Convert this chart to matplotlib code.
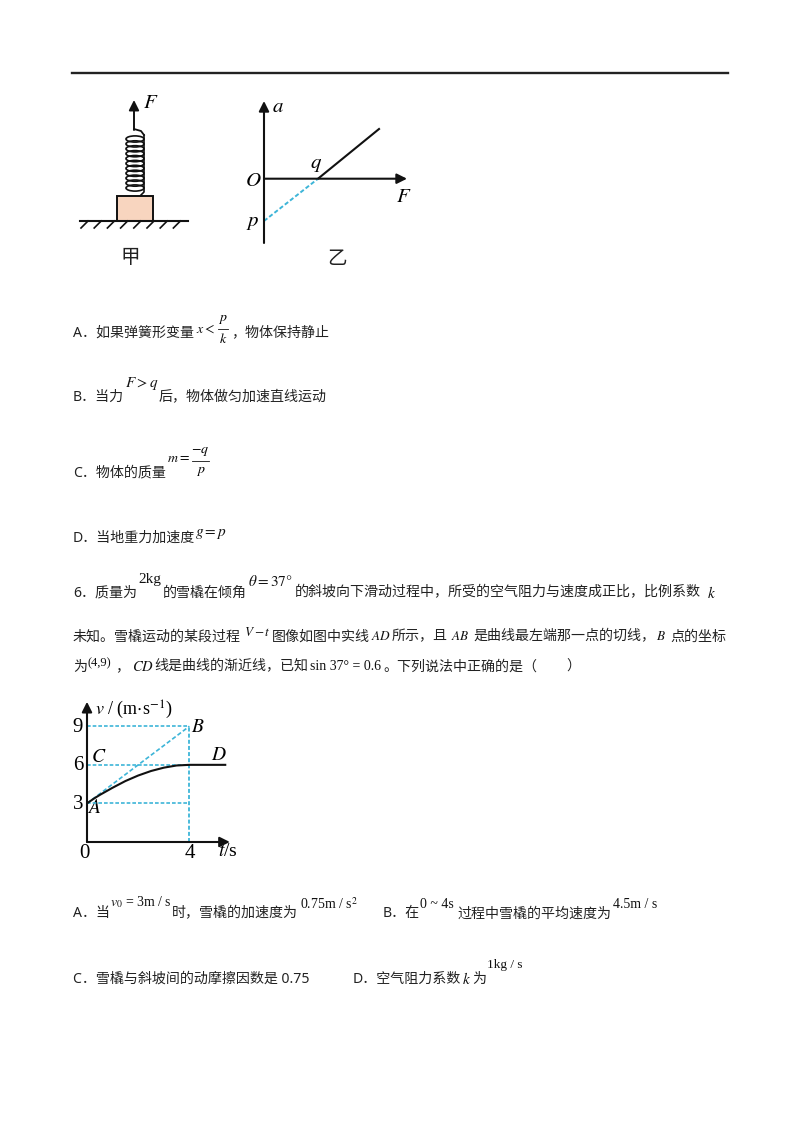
import numpy as np
from matplotlib import pyplot as plt
from matplotlib.patches import Ellipse, Rectangle

plt.rcParams['font.family'] = ['Noto Sans', 'Noto Sans CJK SC', 'DejaVu Sans']
plt.rcParams['mathtext.fontset'] = 'stix'

SERIF = ['Liberation Serif', 'DejaVu Serif']
CYAN = '#3db5d8'
INK = '#111111'

# v-t graph values
t_curve = [0, 0.25, 0.5, 1, 1.5, 2, 2.5, 3, 3.5, 4, 5.4]
v_curve = [3, 3.35, 3.66, 4.22, 4.74, 5.17, 5.52, 5.78, 5.95, 6, 6]
t_ticks = [0, 4]
v_ticks = [3, 6, 9]
A_pt = (0, 3)
B_pt = (4, 9)

# a-F graph values
F_line = [1, 2.13]
a_line = [0, 1.175]
F_dash = [0, 1]
a_dash = [-1, 0]

# page text: x, centre y, string
cjk_lines = [
    (73, 333, 'A．如果弹簧形变量'), (231, 333, '，物体保持静止'),
    (73, 397, 'B．当力'), (159, 397, '后，物体做匀加速直线运动'),
    (73, 473, 'C．物体的质量'),
    (73, 538, 'D．当地重力加速度'),
    (73, 593, '6．质量为'), (163, 593, '的雪橇在倾角'),
    (295, 593, '的斜坡向下滑动过程中，所受的空气阻力与速度成正比，比例系数'),
    (73, 637, '未知。雪橇运动的某段过程'), (272, 637, '图像如图中实线'),
    (392, 637, '所示，且'), (473, 637, '是曲线最左端那一点的切线，'),
    (670, 637, '点的坐标'),
    (73, 667, '为'), (115, 667, '，'), (154, 667, '线是曲线的渐近线，已知'),
    (383, 667, '。下列说法中正确的是（'), (566, 667, '）'),
    (73, 914, 'A．当'), (172, 914, '时，雪橇的加速度为'),
    (383, 914, 'B．在'), (457, 914, '过程中雪橇的平均速度为'),
    (73, 979, 'C．雪橇与斜坡间的动摩擦因数是 0.75'),
    (353, 979, 'D．空气阻力系数'), (472, 979, '为'),
]
math_lines = [
    (196, 329, '$x<$', 10), (125, 384, '$F>q$', 11), (167, 459, '$m=$', 10),
    (195, 534, '$g=p$', 11), (138, 580, '2kg', 11), (248, 581, r'$\theta=37°$', 11),
    (707, 593, '$k$', 11), (244, 633, '$V-t$', 9.5), (371, 637, '$AD$', 9.5),
    (451, 637, '$AB$', 9.5), (656, 637, '$B$', 9.5), (88, 663, '(4,9)', 9),
    (132, 667, '$CD$', 10.5), (310, 666, 'sin 37° = 0.6', 10),
    (110, 902, r'$v_0$ = 3m / s', 10), (300, 904, '0.75m / s$^2$', 10),
    (420, 904, '0 ~ 4s', 10), (613, 905, '4.5m / s', 10),
    (462, 979, '$k$', 11), (487, 965, '1kg / s', 9.5),
]

fig = plt.figure(figsize=(8, 11.32), dpi=100)
page = fig.add_axes([0, 0, 1, 1])
page.set_xlim(0, 800)
page.set_ylim(1132, 0)
page.axis('off')

page.plot([72, 728], [72.5, 72.5], color='#222222', lw=1.7)

for x, y, s in cjk_lines:
    page.text(x, y, s, fontsize=10.08, va='center', color='#222222')
for x, y, s, size in math_lines:
    page.text(x, y, s, fontsize=size, va='center', family=SERIF, color=INK)


def fraction(x0, x1, y, top, bottom):
    page.plot([x0, x1], [y, y], color=INK, lw=0.6)
    page.text((x0 + x1) / 2, y - 10, top, fontsize=10, ha='center', va='center', family=SERIF)
    page.text((x0 + x1) / 2, y + 10, bottom, fontsize=10, ha='center', va='center', family=SERIF)


fraction(218, 228, 329, '$p$', '$k$')
fraction(192, 209, 461, '$-q$', '$p$')

# figure 甲: block, ground and spring
page.add_patch(Rectangle((117, 195.5), 36, 25.5, fc='#f8d5bf', ec=INK, lw=1.4))
page.plot([80, 188], [221, 221], color=INK, lw=1.5)
for hx in np.arange(88, 190, 13.2):
    page.plot([hx, hx - 7], [221, 228], color=INK, lw=1.2)
for cy in np.linspace(139, 188, 11):
    page.add_patch(Ellipse((135, cy), 18, 6.2, fc='none', ec=INK, lw=1.2))
page.plot([144, 144, 141], [135, 192, 195], color=INK, lw=1.2)
page.plot([134, 134, 141, 144], [129, 129, 131, 135], color=INK, lw=1.3)
page.annotate('', xy=(134, 100), xytext=(134, 130),
              arrowprops=dict(arrowstyle='-|>', color=INK, lw=1.4, mutation_scale=15, shrinkA=0, shrinkB=0))
page.text(151, 104, '$F$', fontsize=15, ha='center', va='center', family=SERIF)
page.text(130, 258, '甲', fontsize=14, ha='center', va='center', color='#222222')
page.text(337, 259, '乙', fontsize=14, ha='center', va='center', color='#222222')


def inset(x0, y0, x1, y1, xlim, ylim):
    # axes given in page pixels (y downwards)
    ax = fig.add_axes([x0 / 800, 1 - y1 / 1132, (x1 - x0) / 800, (y1 - y0) / 1132])
    ax.set_xlim(*xlim)
    ax.set_ylim(*ylim)
    ax.axis('off')
    ax.patch.set_alpha(0)
    return ax


def arrow(ax, start, end, lw=1.5):
    ax.annotate('', xy=end, xytext=start,
                arrowprops=dict(arrowstyle='-|>', color=INK, lw=lw, mutation_scale=15, shrinkA=0, shrinkB=0))


# figure 乙: a-F graph, q = 54 px, p = 42.3 px
af = inset(264, 100, 410, 245, (0, 146 / 54), ((178.7 - 245) / 42.3, (178.7 - 100) / 42.3))
arrow(af, (0, (178.7 - 243) / 42.3), (0, (178.7 - 101) / 42.3))
arrow(af, (0, 0), (143 / 54, 0))
af.plot(F_line, a_line, color=INK, lw=1.5)
af.plot(F_dash, a_dash, color=CYAN, lw=1.4, ls=(0, (2.2, 1.2)))
page.text(278, 108, '$a$', fontsize=15, ha='center', va='center', family=SERIF)
page.text(253, 181, '$O$', fontsize=15, ha='center', va='center', family=SERIF)
page.text(316, 165, '$q$', fontsize=15, ha='center', va='center', family=SERIF)
page.text(253, 223, '$p$', fontsize=15, ha='center', va='center', family=SERIF)
page.text(404, 197, '$F$', fontsize=15, ha='center', va='center', family=SERIF)

# v-t graph: t = 25.6 px, v = 12.86 px
vt = inset(87, 700, 232, 842, (0, 145 / 25.6), (0, 142 / 12.86))
arrow(vt, (0, 0), (0, 10.9))
arrow(vt, (0, 0), (5.58, 0))
for v in v_ticks:
    vt.plot([0, t_ticks[1]], [v, v], color=CYAN, lw=1.2, ls=(0, (2.2, 1.2)))
vt.plot([4, 4], [0, 9], color=CYAN, lw=1.3, ls=(0, (2.2, 1.2)))
vt.plot([A_pt[0], B_pt[0]], [A_pt[1], B_pt[1]], color=CYAN, lw=1.2, ls=(0, (2.6, 1.4)))
vt.plot(t_curve, v_curve, color=INK, lw=1.5)

for v in v_ticks:
    page.text(78, 842 - v * 12.86 + 1, str(v), fontsize=15, ha='center', va='center', family=SERIF)
for t in t_ticks:
    page.text((84 if t == 0 else 87 + t * 25.6), 853, str(t), fontsize=15, ha='center', va='center', family=SERIF)
page.text(99, 758, '$C$', fontsize=14, ha='center', va='center', family=SERIF)
page.text(219, 755, '$D$', fontsize=14, ha='center', va='center', family=SERIF)
page.text(94, 808, '$A$', fontsize=14, ha='center', va='center', family=SERIF)
page.text(198, 727, '$B$', fontsize=14, ha='center', va='center', family=SERIF)
page.text(95, 710, r'$v$ / (m$\cdot$s$^{-1}$)', fontsize=13, va='center', family=SERIF)
page.text(218, 852, '$t$/s', fontsize=14, va='center', family=SERIF)

fig.savefig('out.png', dpi=100)
